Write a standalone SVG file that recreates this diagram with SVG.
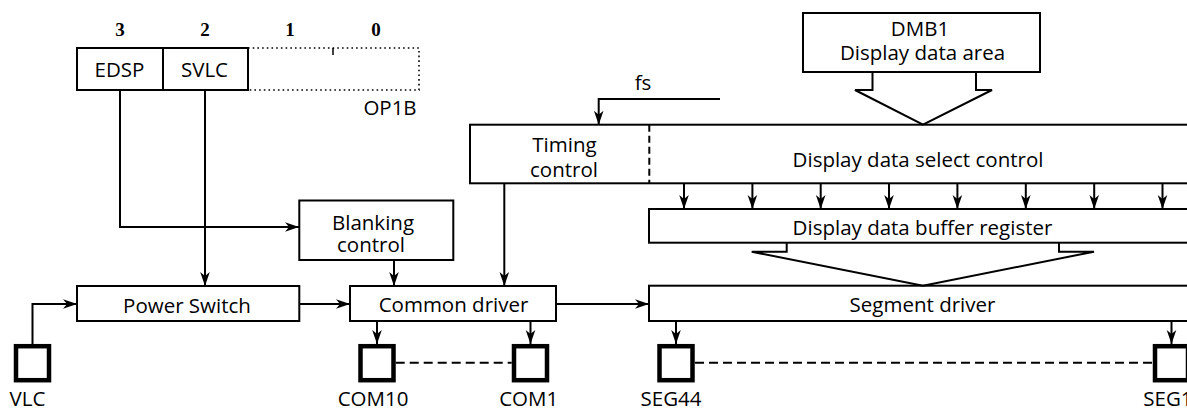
<svg xmlns="http://www.w3.org/2000/svg" width="1187" height="409" viewBox="0 0 1187 409">
<style>
.box{fill:#fff;stroke:#000;stroke-width:2}
.ln{fill:none;stroke:#000;stroke-width:2}
.pad{fill:#fff;stroke:#000;stroke-width:4.5}
.dash{fill:none;stroke:#000;stroke-width:2;stroke-dasharray:9 5}
.dot{fill:none;stroke:#000;stroke-width:1.6;stroke-dasharray:1.6 3.1}
.t{font-family:"Open Sans","Liberation Sans",sans-serif;font-size:20.5px;fill:#000;text-anchor:middle}
.d{font-family:"Liberation Serif",serif;font-size:19px;font-weight:bold;fill:#000;text-anchor:middle}
</style>
<defs>
<marker id="ah" markerUnits="userSpaceOnUse" markerWidth="16" markerHeight="12" viewBox="-15 -6 16 12" refX="0" refY="0" orient="auto">
<path d="M0,0 L-14,-4.8 L-10,0 L-14,4.8 Z" fill="#000"/>
</marker>
</defs>
<rect width="1187" height="409" fill="#fff"/>

<g id="op1b">
<text class="d" x="120" y="36">3</text>
<text class="d" x="205" y="36">2</text>
<text class="d" x="290" y="36">1</text>
<text class="d" x="376" y="36">0</text>
<path class="dot" d="M248,48 H419 V90 H248"/>
<line x1="333" y1="48" x2="333" y2="55" stroke="#000" stroke-width="1.5"/>
<rect class="box" x="77" y="48" width="171" height="42"/>
<line class="ln" x1="163" y1="48" x2="163" y2="90"/>
<text class="t" x="119.5" y="77">EDSP</text>
<text class="t" x="204.5" y="77">SVLC</text>
<text class="t" x="390" y="115">OP1B</text>
</g>

<g id="dmb1">
<rect class="box" x="803" y="13" width="237" height="59"/>
<text class="t" x="920" y="36">DMB1</text>
<text class="t" x="922.5" y="60">Display data area</text>
</g>

<g id="select">
<rect class="box" x="470" y="124.7" width="740" height="58.6"/>
<line class="ln" x1="649.3" y1="124.7" x2="649.3" y2="183.3" stroke-dasharray="7 4"/>
<text class="t" x="564.5" y="152">Timing</text>
<text class="t" x="564" y="176.5">control</text>
<text class="t" x="918" y="166.5">Display data select control</text>
</g>

<g id="buffer">
<rect class="box" x="649" y="209" width="561" height="33.7"/>
<text class="t" x="922.5" y="234.5">Display data buffer register</text>
</g>

<g id="blanking">
<rect class="box" x="299.3" y="200.5" width="154" height="59.5"/>
<text class="t" x="373" y="229.5">Blanking</text>
<text class="t" x="371" y="252">control</text>
</g>

<g id="power">
<rect class="box" x="77" y="286" width="222.3" height="35"/>
<text class="t" x="187" y="313">Power Switch</text>
</g>

<g id="common">
<rect class="box" x="350" y="286" width="206" height="35"/>
<text class="t" x="453.5" y="312">Common driver</text>
</g>

<g id="segment">
<rect class="box" x="649" y="285.7" width="561" height="35.3"/>
<text class="t" x="922.5" y="311.7">Segment driver</text>
</g>

<g id="pad-vlc">
<rect class="pad" x="16" y="346.2" width="33" height="34"/>
<text class="t" x="27.5" y="405.5">VLC</text>
</g>
<g id="pad-com10">
<rect class="pad" x="360.5" y="346.2" width="33" height="34"/>
<text class="t" x="373" y="405.5">COM10</text>
</g>
<g id="pad-com1">
<rect class="pad" x="514" y="346.2" width="33" height="34"/>
<text class="t" x="528.7" y="405.5">COM1</text>
</g>
<g id="pad-seg44">
<rect class="pad" x="659.5" y="346.2" width="33" height="34"/>
<text class="t" x="671" y="405.5">SEG44</text>
</g>
<g id="pad-seg1">
<rect class="pad" x="1155" y="346.2" width="33" height="34"/>
<text class="t" x="1143.3" y="405.5" style="text-anchor:start">SEG1</text>
</g>

<g id="fs-input">
<text class="t" x="643" y="90">fs</text>
</g>

<g id="connectors">
<path class="ln" d="M120,90 V227 H299" marker-end="url(#ah)"/>
<path class="ln" d="M205,90 V286" marker-end="url(#ah)"/>
<path class="ln" d="M394,260 V286" marker-end="url(#ah)"/>
<path class="ln" d="M32.5,344 V304 H77" marker-end="url(#ah)"/>
<path class="ln" d="M299.3,304 H350" marker-end="url(#ah)"/>
<path class="ln" d="M504.3,183.3 V286" marker-end="url(#ah)"/>
<path class="ln" d="M556,304 H649" marker-end="url(#ah)"/>
<path class="ln" d="M377,321 V344" marker-end="url(#ah)"/>
<path class="ln" d="M530.5,321 V344" marker-end="url(#ah)"/>
<path class="ln" d="M676,321 V344" marker-end="url(#ah)"/>
<path class="ln" d="M1171.5,321 V344" marker-end="url(#ah)"/>
<path class="ln" d="M720,99 H598.7 V124.7" marker-end="url(#ah)"/>
<path class="ln" d="M684,183.3 V209" marker-end="url(#ah)"/>
<path class="ln" d="M752.4,183.3 V209" marker-end="url(#ah)"/>
<path class="ln" d="M820.7,183.3 V209" marker-end="url(#ah)"/>
<path class="ln" d="M889,183.3 V209" marker-end="url(#ah)"/>
<path class="ln" d="M957.4,183.3 V209" marker-end="url(#ah)"/>
<path class="ln" d="M1025.8,183.3 V209" marker-end="url(#ah)"/>
<path class="ln" d="M1094.2,183.3 V209" marker-end="url(#ah)"/>
<path class="ln" d="M1162.5,183.3 V209" marker-end="url(#ah)"/>
<path class="ln" d="M872.5,72 V90 H855 L923,124.7 L992,90 H976 V72"/>
<path class="ln" d="M786.7,242.7 V251.7 H751.7 L923,285.7 L1094,251.7 H1059 V242.7"/>
<line class="dash" x1="395.7" y1="362.7" x2="511.7" y2="362.7"/>
<line class="dash" x1="695" y1="362.7" x2="1152.7" y2="362.7"/>
</g>
</svg>
